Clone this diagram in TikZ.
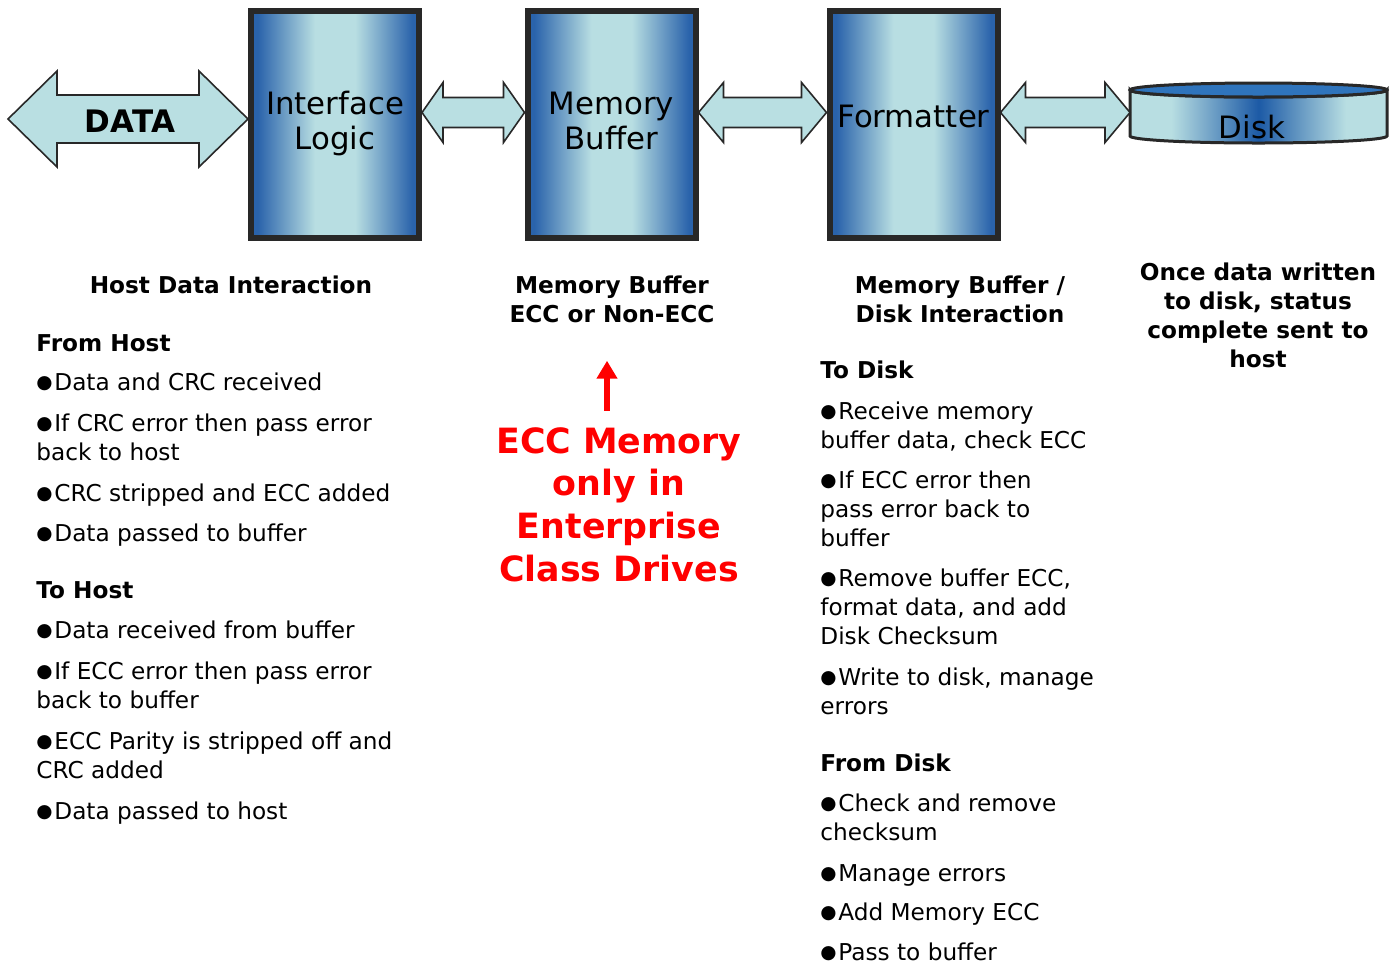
\documentclass[tikz,border=0pt]{standalone}
\usepackage{fontspec}
\setmainfont{DejaVu Sans}
\usetikzlibrary{calc,arrows.meta}

\definecolor{boxdark}{HTML}{2A63AB}
\definecolor{boxlight}{HTML}{B8DEE2}
\definecolor{arrowfill}{HTML}{B9DFE2}
\definecolor{edge}{HTML}{282828}
\definecolor{diskblue}{HTML}{2F74BC}
\definecolor{diskdark}{HTML}{1C5AA6}

\pgfdeclarehorizontalshading{boxshade}{100bp}{color(0bp)=(boxdark); color(27bp)=(boxdark); color(44bp)=(boxlight); color(56bp)=(boxlight); color(73bp)=(boxdark); color(100bp)=(boxdark)}
\pgfdeclarehorizontalshading{diskshade}{100bp}{color(0bp)=(boxlight); color(33bp)=(boxlight); color(50bp)=(diskdark); color(67bp)=(boxlight); color(100bp)=(boxlight)}

\newcommand{\bodyfont}{\fontsize{11.6}{14.5}\selectfont}
\newcommand{\blt}{\makebox[9pt][l]{\fontsize{9.3}{10}\selectfont\raisebox{0.08em}{●}}}

% block arrow with a head at both ends
\newcommand{\fatarrow}[5]{%
  \draw[fatarr] (#1) -- ($(#1)+(#3,-#4)$) -- ($(#1)+(#3,-#5)$) -- ($(#2)+(-#3,-#5)$) -- ($(#2)+(-#3,-#4)$) -- (#2)
    -- ($(#2)+(-#3,#4)$) -- ($(#2)+(-#3,#5)$) -- ($(#1)+(#3,#5)$) -- ($(#1)+(#3,#4)$) -- cycle;}

\begin{document}
\begin{tikzpicture}[x=0.5pt, y=-0.5pt,
  block/.style={draw=edge, line width=3pt, shade, shading=boxshade, minimum width=84pt, minimum height=113.5pt, align=center, font=\fontsize{15.4}{17.5}\selectfont, inner sep=0pt},
  fatarr/.style={draw=edge, line width=0.8pt, fill=arrowfill, line join=miter},
  caption/.style={align=center, font=\bodyfont\bfseries, anchor=base, inner sep=0pt},
  sect/.style={font=\bodyfont\bfseries, anchor=base west, inner sep=0pt},
  item/.style={align=left, font=\bodyfont, anchor=base west, inner sep=0pt},
  note/.style={align=center, font=\fontsize{17.4}{21.3}\selectfont\bfseries, text=red, anchor=base, inner sep=0pt}
]
  \useasboundingbox (0,0) rectangle (1390,965);

  \node[block, text depth=4pt] (il) at (335,124.5) {Interface\\Logic};
  \node[block, text depth=4pt] (mb) at (611.5,124.5) {Memory\\Buffer};
  \node[block, text depth=8pt] (fmt) at (913.5,124.5) {Formatter};

  % disk
  \shadedraw[shading=diskshade, draw=edge, line width=1.5pt] (1130,90) -- (1130,136) arc[start angle=180, end angle=0, x radius=128.5, y radius=7] -- (1387,90) arc[start angle=0, end angle=180, x radius=128.5, y radius=7] -- cycle;
  \filldraw[fill=diskblue, draw=edge, line width=1.5pt] (1258.5,90) ellipse[x radius=128.5, y radius=7];
  \node[font=\fontsize{15.4}{17}\selectfont] (disk) at (1252,127) {Disk};
  \coordinate (diskw) at (1130,112.5);

  \coordinate (dleft) at (8,119);
  \coordinate (dright) at ([yshift=2.75pt]il.west);
  \coordinate (a1) at ([yshift=6pt]il.east);
  \coordinate (a2) at ([yshift=6pt]mb.west);
  \coordinate (b1) at ([yshift=6pt]mb.east);
  \coordinate (b2) at ([yshift=6pt]fmt.west);
  \coordinate (c1) at ([yshift=6pt]fmt.east);
  \fatarrow{dleft}{dright}{49}{48}{24}
  \fatarrow{a1}{a2}{21}{30}{15}
  \fatarrow{b1}{b2}{25}{30}{15}
  \fatarrow{c1}{diskw}{25}{30}{15}
  \node[font=\fontsize{15.5}{18}\selectfont\bfseries] (data) at (130,121) {DATA};

  % base of a node with several lines is its last line
  \node[caption] (hdi) at (231,293) {Host Data Interaction};
  \node[caption] (mbl) at (612,322) {Memory Buffer\\ECC or Non-ECC};
  \node[caption] (mbd) at (960,322) {Memory Buffer /\\Disk Interaction};
  \node[caption] (done) at (1258,367) {Once data written\\to disk, status\\complete sent to\\host};

  \node[note] (ecc) at (619,581) {ECC Memory\\only in\\Enterprise\\Class Drives};
  \coordinate (rx) at (607,0);
  \draw[red, line width=3.2pt, -{Triangle[width=10pt,length=9pt]}, shorten <=8pt, shorten >=19pt] (ecc.north -| rx) -- (mbl.south -| rx);

  \node[sect] (fh) at (36,351) {From Host};
  \node[item] (fh1) at (36,390) {\blt Data and CRC received};
  \node[item] (fh2) at (36,460) {\blt If CRC error then pass error\\back to host};
  \node[item] (fh3) at (36,501) {\blt CRC stripped and ECC added};
  \node[item] (fh4) at (36,541) {\blt Data passed to buffer};
  \node[sect] (th) at (36,598) {To Host};
  \node[item] (th1) at (36,638) {\blt Data received from buffer};
  \node[item] (th2) at (36,708) {\blt If ECC error then pass error\\back to buffer};
  \node[item] (th3) at (36,778) {\blt ECC Parity is stripped off and\\CRC added};
  \node[item] (th4) at (36,819) {\blt Data passed to host};

  \node[sect] (td) at (820,378) {To Disk};
  \node[item] (td1) at (820,448) {\blt Receive memory\\buffer data, check ECC};
  \node[item] (td2) at (820,546) {\blt If ECC error then\\pass error back to\\buffer};
  \node[item] (td3) at (820,644) {\blt Remove buffer ECC,\\format data, and add\\Disk Checksum};
  \node[item] (td4) at (820,714) {\blt Write to disk, manage\\errors};
  \node[sect] (fd) at (820,771) {From Disk};
  \node[item] (fd1) at (820,840) {\blt Check and remove\\checksum};
  \node[item] (fd2) at (820,881) {\blt Manage errors};
  \node[item] (fd3) at (820,920) {\blt Add Memory ECC};
  \node[item] (fd4) at (820,960) {\blt Pass to buffer};
\end{tikzpicture}
\end{document}
